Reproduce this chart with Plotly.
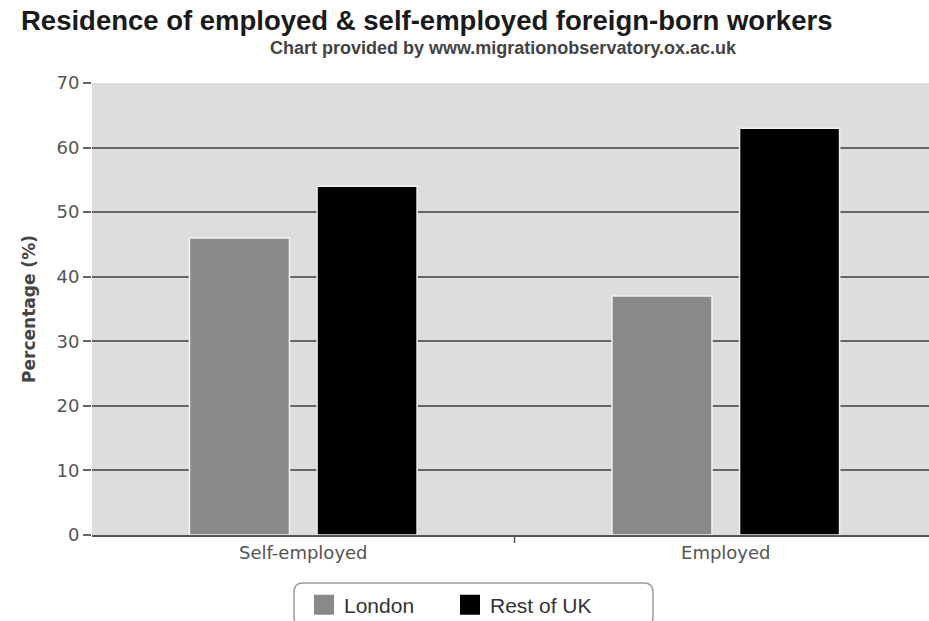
import plotly.graph_objects as go

categories = ["Self-employed", "Employed"]
london = [46, 37]
rest_of_uk = [54, 63]
series_names = ["London", "Rest of UK"]
series_colors = ["#898989", "#000000"]
y_ticks = [0, 10, 20, 30, 40, 50, 60, 70]

W, H = 929, 621
ML, MR, MT, MB = 92, 0, 83, 86
plot_w = W - ML - MR
plot_h = H - MT - MB


def px_x(px):
    return (px - ML) / plot_w


def px_y(py):
    return (H - MB - py) / plot_h


fig = go.Figure()
for name, vals, col in zip(series_names, [london, rest_of_uk], series_colors):
    fig.add_trace(go.Bar(
        x=categories, y=vals, name=name, showlegend=False,
        marker=dict(color=col, line=dict(color="#f2f2f2", width=1.5)),
    ))
# legend proxies (bigger square swatches)
for name, col in zip(series_names, series_colors):
    fig.add_trace(go.Scatter(
        x=[None], y=[None], mode="markers", name=name,
        marker=dict(symbol="square", size=16, color=col, line=dict(color=col, width=4)),
    ))

# rounded legend frame
x0, x1 = px_x(294), px_x(653)
y0, y1 = px_y(583), px_y(626)
rx, ry = 9 / plot_w, 9 / plot_h
frame_path = (
    f"M {x0+rx},{y0} L {x1-rx},{y0} Q {x1},{y0} {x1},{y0-ry} "
    f"L {x1},{y1+ry} Q {x1},{y1} {x1-rx},{y1} L {x0+rx},{y1} "
    f"Q {x0},{y1} {x0},{y1+ry} L {x0},{y0-ry} Q {x0},{y0} {x0+rx},{y0} Z"
)

fig.update_layout(
    width=W, height=H,
    margin=dict(l=ML, r=MR, t=MT, b=MB, autoexpand=False),
    paper_bgcolor="white",
    plot_bgcolor="#dddddd",
    barmode="group",
    bargap=0.396,
    bargroupgap=0.216,
    font=dict(family="DejaVu Sans", color="#555555", size=16),
    showlegend=True,
    legend=dict(
        orientation="h", x=px_x(304), xanchor="left", y=px_y(605), yanchor="middle",
        borderwidth=0, bgcolor="rgba(0,0,0,0)",
        font=dict(family="Liberation Sans", size=21, color="#333333"),
        entrywidth=101,
    ),
    shapes=[
        dict(type="path", path=frame_path, xref="paper", yref="paper",
             line=dict(color="#9a9a9a", width=1.5), fillcolor="white", layer="below"),
        dict(type="line", xref="x", yref="paper", x0=0.5, x1=0.5,
             y0=0, y1=-8 / plot_h, line=dict(color="#555555", width=1.5)),
    ],
)

fig.add_annotation(
    text="<b>Residence of employed & self-employed foreign-born workers</b>",
    xref="paper", yref="paper", x=px_x(19), y=px_y(21),
    xanchor="left", yanchor="middle", showarrow=False,
    font=dict(family="Liberation Sans", size=27.5, color="#1a1a1a"),
)
fig.add_annotation(
    text="<b>Chart provided by www.migrationobservatory.ox.ac.uk</b>",
    xref="paper", yref="paper", x=px_x(503), y=px_y(48),
    xanchor="center", yanchor="middle", showarrow=False,
    font=dict(family="Liberation Sans", size=18, color="#444444"),
)

fig.update_xaxes(
    range=[-0.5, 1.481],
    showgrid=False,
    showline=True, linecolor="#555555", linewidth=2,
    ticks="",
    tickfont=dict(family="DejaVu Sans", size=18, color="#555555"),
    zeroline=False,
)
fig.update_yaxes(
    range=[0, 70],
    tickvals=y_ticks,
    showgrid=True, gridcolor="#666666", gridwidth=1.5,
    ticks="outside", ticklen=8, tickcolor="#666666", tickwidth=1.5,
    tickfont=dict(family="DejaVu Sans", size=18, color="#555555"),
    zeroline=False,
    title=dict(text="<b>Percentage (%)</b>", standoff=16,
               font=dict(family="DejaVu Sans", size=17, color="#444444")),
)

fig.write_html("out.html")
